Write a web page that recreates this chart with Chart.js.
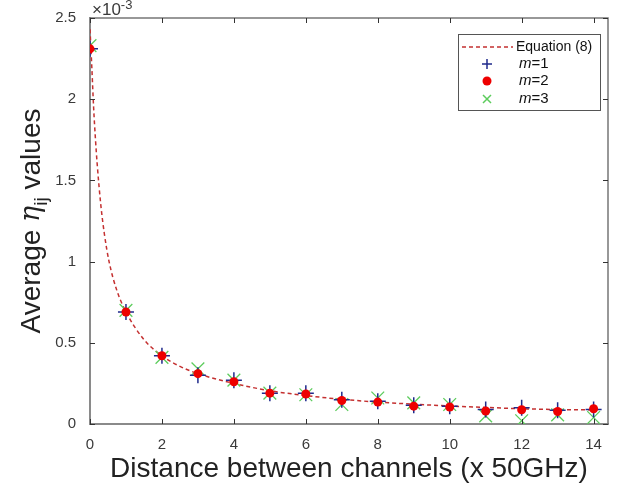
<!DOCTYPE html>
<html>
<head>
<meta charset="utf-8">
<script src="https://cdn.jsdelivr.net/npm/chart.js@4.4.1/dist/chart.umd.min.js"></script>
<style>
  html, body { margin: 0; padding: 0; background: #fff; }
  #wrap { width: 623px; height: 491px; }
</style>
</head>
<body>
<div id="wrap"><canvas id="chart" width="623" height="491"></canvas></div>
<script>
// distance between channels (x 50GHz)
const distances = [0, 1, 2, 3, 4, 5, 6, 7, 8, 9, 10, 11, 12, 13, 14];
// average eta values, in units of 1e-3
const m1Values = [2.31, 0.69, 0.42, 0.30, 0.27, 0.19, 0.19, 0.15, 0.14, 0.115, 0.11, 0.09, 0.10, 0.085, 0.09];
const m2Values = [2.31, 0.69, 0.42, 0.31, 0.26, 0.19, 0.185, 0.145, 0.135, 0.11, 0.105, 0.08, 0.088, 0.077, 0.094];
const m3Values = [2.33, 0.70, 0.41, 0.34, 0.27, 0.19, 0.18, 0.12, 0.16, 0.13, 0.12, 0.05, 0.02, 0.056, 0.04];
// Equation (8) curve
const eqX = [0, 0.05, 0.1, 0.15, 0.2, 0.3, 0.4, 0.53, 0.75, 1, 1.5, 2, 2.5, 3, 4, 5, 6, 7, 8, 9, 10, 11, 12, 13, 14];
const eqY = [2.43, 2.2, 1.95, 1.76, 1.6, 1.35, 1.17, 1.0, 0.82, 0.69, 0.52, 0.42, 0.355, 0.31, 0.25, 0.205, 0.175, 0.152, 0.135, 0.122, 0.111, 0.102, 0.094, 0.089, 0.087];
const xTicks = [0, 2, 4, 6, 8, 10, 12, 14];
const yTicks = [0, 0.5, 1, 1.5, 2, 2.5];

const FONT = '"Liberation Sans", Arial, sans-serif';
const textColor = '#3a3a3a';
const eqColor = 'rgb(196,48,48)';
const m1Color = '#1f2a8c';
const m2Color = '#ee0000';
const m3Color = '#5ccc5c';

const pts = (xs, ys) => xs.map((x, i) => ({ x: x, y: ys[i] }));

const extras = {
  id: 'extras',
  afterDraw(chart) {
    const ctx = chart.ctx;
    const a = chart.chartArea;
    const xs = chart.scales.x, ys = chart.scales.y;
    ctx.save();

    // top and right border
    ctx.strokeStyle = '#777';
    ctx.lineWidth = 1.5;
    ctx.beginPath();
    ctx.moveTo(a.left, a.top); ctx.lineTo(a.right, a.top); ctx.lineTo(a.right, a.bottom);
    ctx.stroke();

    // inward ticks
    ctx.strokeStyle = '#333';
    ctx.lineWidth = 1;
    ctx.beginPath();
    xTicks.forEach(v => {
      const p = Math.round(xs.getPixelForValue(v)) + 0.5;
      ctx.moveTo(p, a.bottom); ctx.lineTo(p, a.bottom - 5);
      ctx.moveTo(p, a.top); ctx.lineTo(p, a.top + 5);
    });
    yTicks.forEach(v => {
      const p = Math.round(ys.getPixelForValue(v)) + 0.5;
      ctx.moveTo(a.left, p); ctx.lineTo(a.left + 5, p);
      ctx.moveTo(a.right, p); ctx.lineTo(a.right - 5, p);
    });
    ctx.stroke();

    // exponent label
    ctx.fillStyle = textColor;
    ctx.textBaseline = 'alphabetic';
    ctx.textAlign = 'left';
    ctx.font = '17px ' + FONT;
    ctx.fillText('\u00d710', a.left + 2, a.top - 3);
    const w10 = ctx.measureText('\u00d710').width;
    ctx.font = '13px ' + FONT;
    ctx.fillText('-3', a.left + 2 + w10, a.top - 9);

    // x title
    ctx.font = '28px ' + FONT;
    ctx.textAlign = 'center';
    ctx.fillStyle = '#222';
    ctx.fillText('Distance between channels (x 50GHz)', (a.left + a.right) / 2, 477);

    // y title with subscript
    ctx.save();
    ctx.translate(40, (a.top + a.bottom) / 2);
    ctx.rotate(-Math.PI / 2);
    const parts = [
      { t: 'Average ', f: '28px ' + FONT, dy: 0 },
      { t: '\u03b7', f: 'italic 27px "DejaVu Serif", serif', dy: -1 },
      { t: 'ij', f: '19px ' + FONT, dy: 7 },
      { t: ' values', f: '28px ' + FONT, dy: 0 }
    ];
    let total = 0;
    parts.forEach(p => { ctx.font = p.f; p.w = ctx.measureText(p.t).width; total += p.w; });
    let cx = -total / 2;
    ctx.textAlign = 'left';
    parts.forEach(p => { ctx.font = p.f; ctx.fillText(p.t, cx, p.dy); cx += p.w; });
    ctx.restore();

    // legend
    const lx = 458, ly = 34, lw = 142, lh = 76;
    ctx.fillStyle = '#fff';
    ctx.fillRect(lx, ly, lw, lh);
    ctx.strokeStyle = '#555';
    ctx.lineWidth = 1;
    ctx.strokeRect(lx + 0.5, ly + 0.5, lw, lh);
    const rows = [47, 64, 81, 99];
    const mx = 487;
    ctx.strokeStyle = eqColor;
    ctx.lineWidth = 1.5;
    ctx.setLineDash([4, 3]);
    ctx.beginPath(); ctx.moveTo(462, rows[0]); ctx.lineTo(513, rows[0]); ctx.stroke();
    ctx.setLineDash([]);
    ctx.strokeStyle = m1Color;
    ctx.beginPath();
    ctx.moveTo(mx - 5, rows[1]); ctx.lineTo(mx + 5, rows[1]);
    ctx.moveTo(mx, rows[1] - 5); ctx.lineTo(mx, rows[1] + 5);
    ctx.stroke();
    ctx.fillStyle = m2Color;
    ctx.beginPath(); ctx.arc(mx, rows[2], 4.5, 0, Math.PI * 2); ctx.fill();
    ctx.strokeStyle = m3Color;
    ctx.beginPath();
    ctx.moveTo(mx - 4, rows[3] - 4); ctx.lineTo(mx + 4, rows[3] + 4);
    ctx.moveTo(mx - 4, rows[3] + 4); ctx.lineTo(mx + 4, rows[3] - 4);
    ctx.stroke();
    ctx.fillStyle = '#111';
    ctx.textBaseline = 'middle';
    ctx.textAlign = 'left';
    ctx.font = '14px ' + FONT;
    ctx.fillText('Equation (8)', 516, rows[0]);
    ['1', '2', '3'].forEach((n, i) => {
      ctx.font = 'italic 15px ' + FONT;
      ctx.fillText('m', 519, rows[i + 1]);
      const wm = ctx.measureText('m').width;
      ctx.font = '15px ' + FONT;
      ctx.fillText('=' + n, 519 + wm, rows[i + 1]);
    });

    ctx.restore();
  }
};

new Chart(document.getElementById('chart'), {
  type: 'scatter',
  data: {
    datasets: [
      {
        label: 'm=2',
        data: pts(distances, m2Values),
        pointStyle: 'circle',
        pointRadius: 4.5,
        backgroundColor: m2Color,
        borderColor: m2Color,
        borderWidth: 0,
        order: 0
      },
      {
        label: 'm=1',
        data: pts(distances, m1Values),
        pointStyle: 'cross',
        pointRadius: 8,
        borderColor: m1Color,
        borderWidth: 1.5,
        order: 1
      },
      {
        label: 'm=3',
        data: pts(distances, m3Values),
        pointStyle: 'crossRot',
        pointRadius: 9,
        borderColor: m3Color,
        borderWidth: 1.3,
        order: 2
      },
      {
        label: 'Equation (8)',
        type: 'line',
        data: pts(eqX, eqY),
        showLine: true,
        pointRadius: 0,
        borderColor: eqColor,
        borderWidth: 1.5,
        borderDash: [4, 3],
        cubicInterpolationMode: 'monotone',
        fill: false,
        order: 3
      }
    ]
  },
  options: {
    responsive: false,
    animation: false,
    events: [],
    layout: { padding: { top: 18, right: 15, left: 0, bottom: 0 } },
    plugins: { legend: { display: false }, tooltip: { enabled: false } },
    scales: {
      x: {
        type: 'linear',
        min: 0,
        max: 14.4,
        afterFit: s => { s.height = 67; },
        afterBuildTicks: s => { s.ticks = xTicks.map(v => ({ value: v })); },
        grid: { display: false },
        border: { display: true, color: '#8a8a8a', width: 2 },
        ticks: { color: textColor, font: { family: FONT, size: 15 }, padding: 4, maxRotation: 0 }
      },
      y: {
        type: 'linear',
        min: 0,
        max: 2.5,
        afterFit: s => { s.width = 90; },
        afterBuildTicks: s => { s.ticks = yTicks.map(v => ({ value: v })); },
        grid: { display: false },
        border: { display: true, color: '#8a8a8a', width: 2 },
        ticks: {
          color: textColor,
          font: { family: FONT, size: 15 },
          padding: 6,
          callback: v => String(v)
        }
      }
    }
  },
  plugins: [extras]
});
</script>
</body>
</html>
